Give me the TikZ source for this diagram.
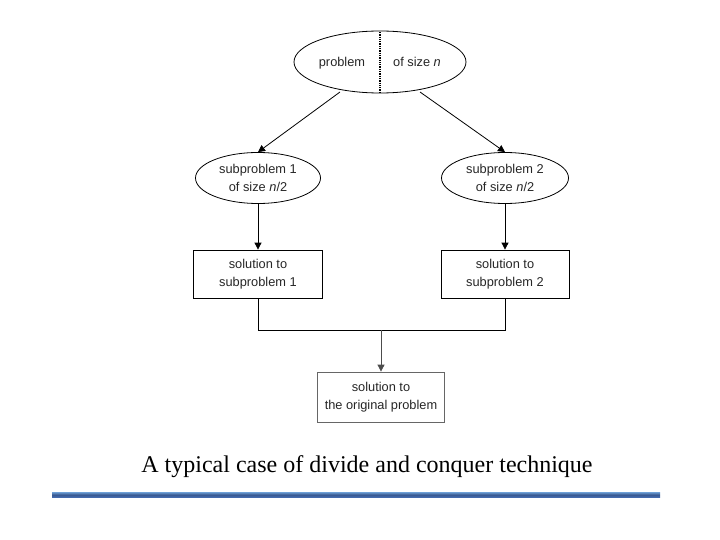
\documentclass[tikz,border=0pt]{standalone}
\usepackage{fontspec}
\setmainfont{Liberation Serif}
\newfontfamily\diagfont{Liberation Sans}
\usetikzlibrary{arrows.meta,shapes.geometric}
\definecolor{barblue}{RGB}{70,110,180}
\definecolor{barlight}{RGB}{110,160,215}
\tikzset{
  lbl/.style={font=\diagfont\fontsize{12.8}{18}\selectfont, align=center, text=black!85},
  ell/.style={draw, ellipse, lbl, line width=0.8pt},
  boxn/.style={draw, rectangle, lbl, line width=0.8pt, minimum width=128pt, minimum height=48pt},
  arr/.style={-{Triangle[length=7pt,width=7pt]}, line width=0.8pt},
  ln/.style={line width=0.8pt}
}
\begin{document}
\begin{tikzpicture}[x=1pt,y=-1pt]
\useasboundingbox (0,0) rectangle (720,540);
% top ellipse
\node[ell, minimum width=172pt, minimum height=62pt] (top) at (380,62) {};
\coordinate (topt) at (380,32);
\coordinate (topb) at (380,93);
\draw[densely dotted, line width=1.3pt] (topt) -- (topb);
\node[lbl, anchor=base] (tl) at (342,66.5) {problem};
\node[lbl, anchor=base] (tr) at (417,66.5) {of size \textit{n}};
% sub ellipses
\node[ell, minimum width=125pt, minimum height=51pt, inner sep=0pt] (s1) at (258,178) {subproblem 1\\of size \textit{n}/2};
\node[ell, minimum width=127pt, minimum height=51pt, inner sep=0pt] (s2) at (505,178) {subproblem 2\\of size \textit{n}/2};
\coordinate (tlo) at (340,92);
\coordinate (tro) at (420,92);
\draw[arr] (tlo) -- (s1.north);
\draw[arr] (tro) -- (s2.north);
% boxes
\node[boxn, minimum width=129pt] (b1) at (258,274) {solution to\\subproblem 1};
\node[boxn, minimum width=128pt] (b2) at (505,274) {solution to\\subproblem 2};
\draw[arr] (s1.south) -- (s1.south |- b1.north);
\draw[arr] (s2.south) -- (s2.south |- b2.north);
% join
\coordinate (j1) at (258,330);
\coordinate (j2) at (505,330);
\node[boxn, minimum width=127pt, minimum height=50pt, draw=black!60] (b3) at (381,397) {solution to\\the original problem};
\coordinate (jm) at (b3.north |- j1);
\draw[ln] (b1.south) -- (j1) -- (j2) -- (b2.south);
\draw[arr, draw=black!70] (jm) -- (b3.north);
% caption
\node[font=\fontsize{24}{28}\selectfont] (cap) at (367,467) {A typical case of divide and conquer technique};
% bar
\shade[top color=barlight, bottom color=barblue, middle color=barblue!80!black] (52,492) rectangle (660,497.5);
\end{tikzpicture}
\end{document}
